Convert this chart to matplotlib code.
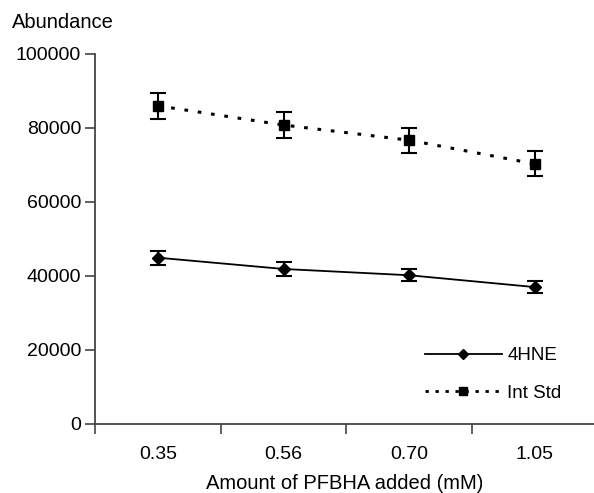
import matplotlib.pyplot as plt
from matplotlib.lines import Line2D
import numpy as np

plt.rcParams['font.family'] = ['Liberation Sans', 'DejaVu Sans']

doses = ["0.35", "0.56", "0.70", "1.05"]
hne = [44950, 41900, 40200, 37000]
hne_err = [1900, 1900, 1600, 1600]
intstd = [86000, 80800, 76700, 70300]
intstd_err = [3500, 3500, 3400, 3400]

dots = (0, (1.2, 3.2))

fig = plt.figure(figsize=(5.94, 4.93), dpi=100)
ax = fig.add_axes([95/594, 69/493, 1 - 95/594, 370/493])

x = np.arange(len(doses)) + 0.5
ax.errorbar(x, hne, yerr=hne_err, color='black', lw=1.3, marker='D', markersize=6,
            capsize=6, capthick=1.5, elinewidth=1.5)
ax.errorbar(x, intstd, yerr=intstd_err, color='black', lw=2.2, linestyle=dots,
            marker='s', markersize=7, capsize=6, capthick=1.5, elinewidth=1.5)

ax.set_xlim(0, 3.97)
ax.set_ylim(0, 100000)
ax.set_yticks(range(0, 100001, 20000))
ax.set_xticks(range(0, 4))
ax.set_xticklabels([])
ax.set_xticks(x, minor=True)
ax.set_xticklabels(doses, minor=True)
ax.tick_params(axis='x', which='minor', length=0, pad=16, labelsize=14)
ax.tick_params(axis='x', which='major', length=7, width=1.2, color='#444444')
ax.tick_params(axis='y', length=7, width=1.2, color='#444444', labelsize=14, pad=3)

for s in ['top', 'right']:
    ax.spines[s].set_visible(False)
for s in ['left', 'bottom']:
    ax.spines[s].set_color('#444444')
    ax.spines[s].set_linewidth(1.3)

ax.set_xlabel("Amount of PFBHA added (mM)", fontsize=14.5, labelpad=8)
fig.text(12/594, 1 - 23/493, "Abundance", fontsize=14.5, va='center', ha='left')

handles = [
    Line2D([], [], color='black', lw=1.3, marker='D', markersize=5),
    Line2D([], [], color='black', lw=2.0, linestyle=(0, (1.2, 2.4)), marker='s', markersize=6),
]
ax.legend(handles, ['4HNE', 'Int Std'], loc='upper left', bbox_to_anchor=(0.661, 0.208),
          frameon=False, fontsize=13.5, handlelength=4.1, labelspacing=1.1,
          handletextpad=0.3, borderpad=0, borderaxespad=0)

fig.savefig("out.png", dpi=100)
